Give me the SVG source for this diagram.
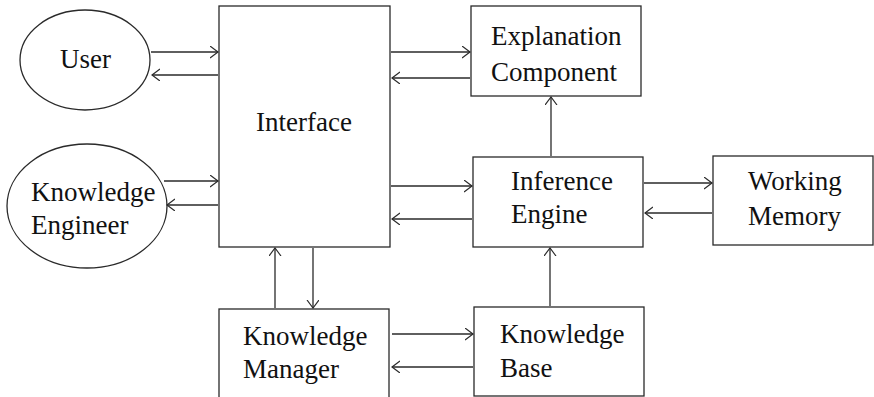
<svg xmlns="http://www.w3.org/2000/svg" width="874" height="397" viewBox="0 0 874 397" font-family="Liberation Serif, DejaVu Serif, serif">
<defs>
<style>
.shape{fill:#fff;stroke:#2a2a2a;stroke-width:1.3}
.lbl{font-size:27px;fill:#111}
.conn line{stroke:#2a2a2a;stroke-width:1.3;fill:none}
</style>
<marker id="ah" markerUnits="userSpaceOnUse" markerWidth="12" markerHeight="14" refX="8" refY="6" orient="auto">
<path d="M0,0 L8,6 L0,12" fill="none" stroke="#2a2a2a" stroke-width="1.2"/>
</marker>
</defs>
<rect width="874" height="397" fill="#fff"/>
<g id="user">
<ellipse class="shape" cx="85" cy="60" rx="65" ry="50"/>
<text class="lbl" x="60" y="68">User</text>
</g>
<g id="knowledge-engineer">
<ellipse class="shape" cx="87" cy="206" rx="80" ry="62"/>
<text class="lbl" x="31" y="201">Knowledge</text>
<text class="lbl" x="31" y="234">Engineer</text>
</g>
<g id="interface">
<rect class="shape" x="219" y="6" width="171" height="241"/>
<text class="lbl" x="256" y="131">Interface</text>
</g>
<g id="explanation-component">
<rect class="shape" x="471" y="6" width="170" height="90"/>
<text class="lbl" x="491" y="45">Explanation</text>
<text class="lbl" x="491" y="81">Component</text>
</g>
<g id="inference-engine">
<rect class="shape" x="473" y="157" width="170" height="90"/>
<text class="lbl" x="511" y="190">Inference</text>
<text class="lbl" x="511" y="223">Engine</text>
</g>
<g id="working-memory">
<rect class="shape" x="713" y="156" width="160" height="89"/>
<text class="lbl" x="748" y="190">Working</text>
<text class="lbl" x="748" y="225">Memory</text>
</g>
<g id="knowledge-manager">
<rect class="shape" x="219" y="309" width="170" height="95"/>
<text class="lbl" x="243" y="345">Knowledge</text>
<text class="lbl" x="243" y="378">Manager</text>
</g>
<g id="knowledge-base">
<rect class="shape" x="474" y="307" width="170" height="89"/>
<text class="lbl" x="500" y="343">Knowledge</text>
<text class="lbl" x="500" y="377">Base</text>
</g>
<g id="connectors" class="conn">
<line x1="151" y1="52" x2="218" y2="52" marker-end="url(#ah)"/>
<line x1="218" y1="75" x2="152" y2="75" marker-end="url(#ah)"/>
<line x1="164" y1="181" x2="218" y2="181" marker-end="url(#ah)"/>
<line x1="218" y1="205" x2="167" y2="205" marker-end="url(#ah)"/>
<line x1="391" y1="52" x2="470" y2="52" marker-end="url(#ah)"/>
<line x1="470" y1="78" x2="392" y2="78" marker-end="url(#ah)"/>
<line x1="391" y1="186" x2="472" y2="186" marker-end="url(#ah)"/>
<line x1="472" y1="219" x2="392" y2="219" marker-end="url(#ah)"/>
<line x1="551" y1="156" x2="551" y2="97" marker-end="url(#ah)"/>
<line x1="644" y1="183" x2="712" y2="183" marker-end="url(#ah)"/>
<line x1="712" y1="213" x2="645" y2="213" marker-end="url(#ah)"/>
<line x1="275" y1="308" x2="275" y2="248" marker-end="url(#ah)"/>
<line x1="313" y1="248" x2="313" y2="308" marker-end="url(#ah)"/>
<line x1="392" y1="334" x2="473" y2="334" marker-end="url(#ah)"/>
<line x1="473" y1="367" x2="392" y2="367" marker-end="url(#ah)"/>
<line x1="550" y1="306" x2="550" y2="248" marker-end="url(#ah)"/>
</g>
</svg>
